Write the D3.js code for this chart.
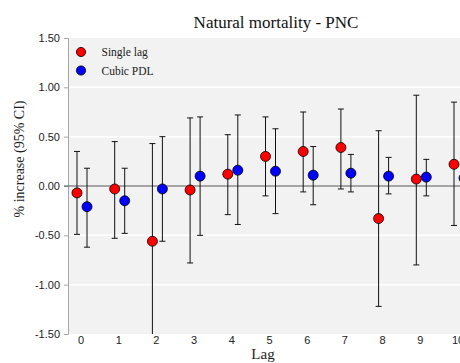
<!DOCTYPE html>
<html>
<head>
<meta charset="utf-8">
<script src="https://cdn.jsdelivr.net/npm/d3@7"></script>
<style>
  body { margin: 0; background: #fff; }
  svg { display: block; }
</style>
</head>
<body>
<div id="chart"></div>
<script>
// lag categories
const lags = [0, 1, 2, 3, 4, 5, 6, 7, 8, 9, 10];

// single lag estimates (% increase) with 95% CI
const singleEst   = [-0.07, -0.03, -0.56, -0.04, 0.12, 0.30, 0.35, 0.39, -0.33, 0.07, 0.22];
const singleLower = [-0.49, -0.53, -1.55, -0.78, -0.29, -0.10, -0.06, -0.03, -1.22, -0.80, -0.40];
const singleUpper = [0.35, 0.45, 0.43, 0.69, 0.52, 0.70, 0.75, 0.78, 0.56, 0.92, 0.85];

// cubic PDL estimates
const pdlEst   = [-0.21, -0.15, -0.03, 0.10, 0.16, 0.15, 0.11, 0.13, 0.10, 0.09, 0.08];
const pdlLower = [-0.62, -0.48, -0.56, -0.50, -0.39, -0.28, -0.19, -0.06, -0.08, -0.10, -0.10];
const pdlUpper = [0.18, 0.18, 0.50, 0.70, 0.72, 0.58, 0.40, 0.32, 0.29, 0.27, 0.26];

const yTicks = [-1.5, -1.0, -0.5, 0, 0.5, 1.0, 1.5];

const width = 460, height = 363;
const plot = { left: 68, top: 38, right: 470, bottom: 334 };
const serif = "Liberation Serif, Times New Roman, serif";
const sans = "Liberation Sans, Arial, sans-serif";

const svg = d3.select("#chart").append("svg").attr("width", width).attr("height", height);

const x = d3.scaleLinear().domain([0, 10]).range([82, 459]);
const y = d3.scaleLinear().domain([-1.5, 1.5]).range([plot.bottom, plot.top]);

svg.append("defs").append("clipPath").attr("id", "clip")
  .append("rect").attr("x", plot.left).attr("y", plot.top).attr("width", plot.right - plot.left).attr("height", plot.bottom - plot.top);

// background
svg.append("rect").attr("x", plot.left).attr("y", plot.top).attr("width", plot.right - plot.left).attr("height", plot.bottom - plot.top).attr("fill", "#f2f2f2");

// gridlines
svg.append("g").selectAll("line").data(yTicks.filter(d => d !== 0 && d !== 1.5 && d !== -1.5)).join("line")
  .attr("x1", plot.left).attr("x2", plot.right).attr("y1", d => y(d)).attr("y2", d => y(d))
  .attr("stroke", "#fff").attr("stroke-width", 1.5);

// y axis (hyphen minus like the original)
const fmt = d3.format(".2f");
const yAxis = svg.append("g").attr("transform", `translate(${plot.left},0)`)
  .call(d3.axisLeft(y).tickValues(yTicks).tickFormat(d => fmt(d).replace("\u2212", "-")).tickSize(4).tickPadding(4));
yAxis.select(".domain").attr("stroke", "#a6a6a6");
yAxis.selectAll(".tick line").attr("stroke", "#a6a6a6");
yAxis.selectAll("text").attr("font-family", sans).attr("font-size", 11).attr("fill", "#222");

// zero line
svg.append("line").attr("x1", plot.left - 4).attr("x2", plot.right).attr("y1", y(0)).attr("y2", y(0))
  .attr("stroke", "#595959").attr("stroke-width", 1);

// x tick labels
svg.append("g").selectAll("text").data(lags).join("text")
  .attr("x", d => x(d) - 1).attr("y", plot.bottom + 10).attr("text-anchor", "middle")
  .attr("font-family", sans).attr("font-size", 11).attr("fill", "#222")
  .text(d => d);

// series
const series = [
  { name: "Single lag", color: "#ff0000", off: -5, est: singleEst, lo: singleLower, hi: singleUpper },
  { name: "Cubic PDL", color: "#0000ff", off: 5, est: pdlEst, lo: pdlLower, hi: pdlUpper }
];

const marks = svg.append("g").attr("clip-path", "url(#clip)");
series.forEach(s => {
  const pts = lags.map((l, i) => ({ l, e: s.est[i], lo: s.lo[i], hi: s.hi[i] }));
  const g = marks.append("g");
  g.selectAll("line.bar").data(pts).join("line").attr("class", "bar")
    .attr("x1", d => x(d.l) + s.off).attr("x2", d => x(d.l) + s.off)
    .attr("y1", d => y(d.lo)).attr("y2", d => y(d.hi))
    .attr("stroke", "#111").attr("stroke-width", 1);
  ["lo", "hi"].forEach(k => {
    g.selectAll("line.cap-" + k).data(pts).join("line").attr("class", "cap-" + k)
      .attr("x1", d => x(d.l) + s.off - 3).attr("x2", d => x(d.l) + s.off + 3)
      .attr("y1", d => y(d[k])).attr("y2", d => y(d[k]))
      .attr("stroke", "#111").attr("stroke-width", 1);
  });
  g.selectAll("circle").data(pts).join("circle")
    .attr("cx", d => x(d.l) + s.off).attr("cy", d => y(d.e)).attr("r", 5)
    .attr("fill", s.color).attr("stroke", "#000").attr("stroke-width", 0.8);
});

// legend
const legend = svg.append("g");
series.forEach((s, i) => {
  legend.append("circle").attr("cx", 81).attr("cy", 52 + i * 18.5).attr("r", 4.6)
    .attr("fill", s.color).attr("stroke", "#000").attr("stroke-width", 0.8);
  legend.append("text").attr("x", 101.5).attr("y", 56 + i * 18.5)
    .attr("font-family", serif).attr("font-size", 11.5).attr("fill", "#222")
    .text(s.name);
});

// title
svg.append("text").attr("x", 276).attr("y", 28).attr("text-anchor", "middle")
  .attr("font-family", serif).attr("font-size", 17).attr("fill", "#111")
  .text("Natural mortality - PNC");

// axis titles
svg.append("text").attr("transform", "translate(24,159) rotate(-90)").attr("text-anchor", "middle")
  .attr("font-family", serif).attr("font-size", 14).attr("fill", "#222")
  .text("% increase (95% CI)");
svg.append("text").attr("x", 263).attr("y", 359).attr("text-anchor", "middle")
  .attr("font-family", serif).attr("font-size", 15).attr("fill", "#222")
  .text("Lag");
</script>
</body>
</html>
